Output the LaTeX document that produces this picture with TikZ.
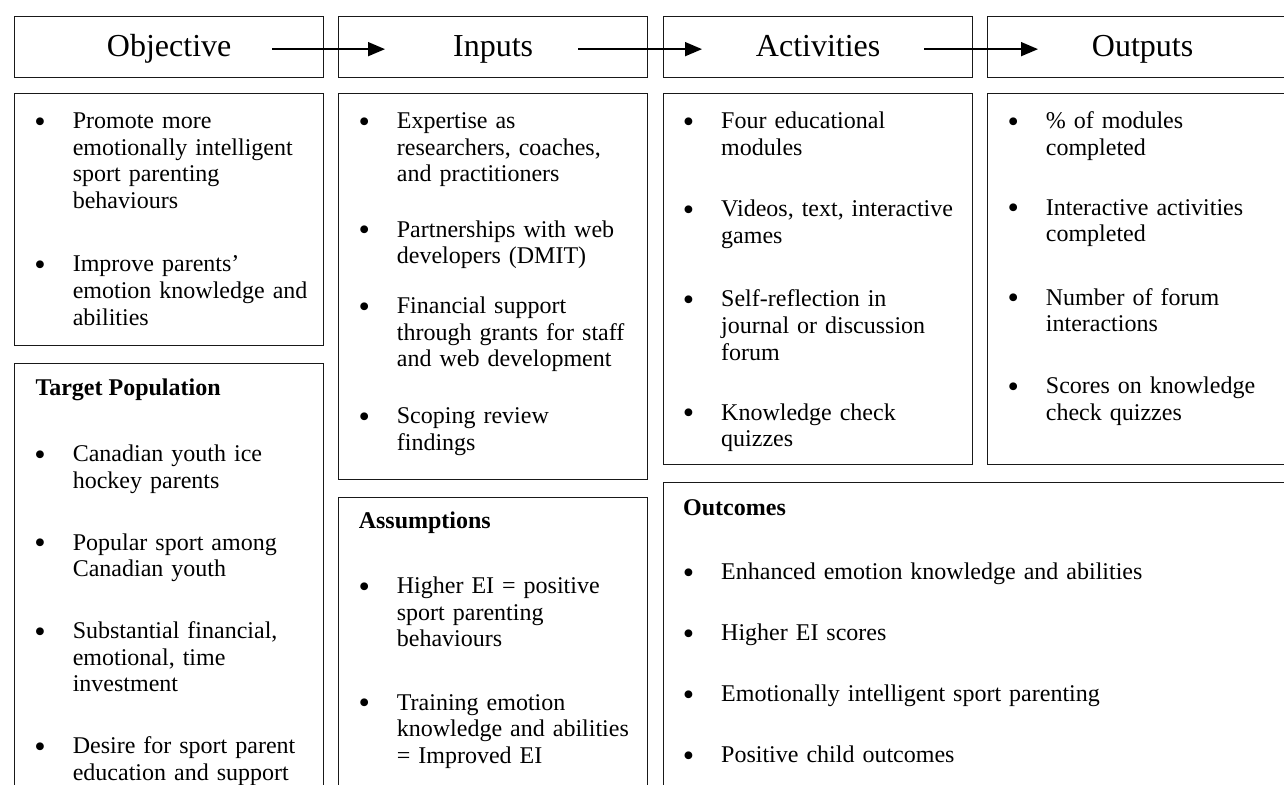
\documentclass[tikz,border=0pt]{standalone}
\usepackage{fontspec}
\setmainfont{Liberation Serif}
\usetikzlibrary{arrows.meta}

\newcommand{\listdot}{\raisebox{-3.6pt}{\scalebox{1.35}{\textbullet}}}

\tikzset{
  frame/.style={draw=black!90, line width=1.3pt, rectangle, inner sep=0pt, anchor=north west},
  headbox/.style={frame, font=\fontsize{32}{38}\selectfont, text height=22pt, text depth=4pt},
  item/.style={anchor=north west, inner sep=0pt, text width=600pt, align=left, yshift=18.69pt,
    font=\fontsize{24}{26.7}\selectfont,
    execute at begin node=\noindent\strut\llap{\listdot\hspace*{27pt}}},
  boxtitle/.style={anchor=base west, inner sep=0pt, font=\fontsize{24}{26.7}\selectfont\bfseries},
  flow/.style={-{Triangle[length=17pt,width=14pt]}, line width=1.6pt, black},
}

\begin{document}
\begin{tikzpicture}[x=1pt,y=-1pt]
\useasboundingbox (0,0) rectangle (1284,784);
\fill[white] (0,0) rectangle (1284,784);
\clip (0,0) rectangle (1284,784);

% header row
\node[headbox, minimum width=309pt, minimum height=61pt] (hobj) at (14,16) {Objective};
\node[headbox, minimum width=309pt, minimum height=61pt] (hinp) at (338,16) {Inputs};
\node[headbox, minimum width=309pt, minimum height=61pt] (hact) at (663,16) {Activities};
\node[headbox, minimum width=310pt, minimum height=61pt] (hout) at (987,16) {Outputs};

% content frames
\node[frame, minimum width=309pt, minimum height=252pt] (cobj) at (14,93) {};
\node[frame, minimum width=309pt, minimum height=440pt] (ctar) at (14,363) {};
\node[frame, minimum width=309pt, minimum height=386pt] (cinp) at (338,93) {};
\node[frame, minimum width=309pt, minimum height=310pt] (cass) at (338,497) {};
\node[frame, minimum width=309pt, minimum height=371pt] (cact) at (663,93) {};
\node[frame, minimum width=310pt, minimum height=371pt] (cout) at (987,93) {};
\node[frame, minimum width=634pt, minimum height=320pt] (cres) at (663,482) {};

% objective
\node[item] (obj1) at (72.6,128.3) {Promote more\\emotionally intelligent\\sport parenting\\behaviours};
\node[item] (obj2) at (72.6,271.5) {Improve parents’\\emotion knowledge and\\abilities};

% target population
\node[boxtitle] (ttar) at (35.3,395) {Target Population};
\node[item] (tar1) at (72.6,461.7) {Canadian youth ice\\hockey parents};
\node[item] (tar2) at (72.6,550) {Popular sport among\\Canadian youth};
\node[item] (tar3) at (72.6,638.3) {Substantial financial,\\emotional, time\\investment};
\node[item] (tar4) at (72.6,753.3) {Desire for sport parent\\education and support};

% inputs
\node[item] (inp1) at (396.7,128.3) {Expertise as\\researchers, coaches,\\and practitioners};
\node[item] (inp2) at (396.7,237) {Partnerships with web\\developers (DMIT)};
\node[item] (inp3) at (396.7,313.3) {Financial support\\through grants for staff\\and web development};
\node[item] (inp4) at (396.7,423.3) {Scoping review\\findings};

% assumptions
\node[boxtitle] (tass) at (358.6,528.3) {Assumptions};
\node[item] (ass1) at (396.7,593.3) {Higher EI = positive\\sport parenting\\behaviours};
\node[item] (ass2) at (396.7,710) {Training emotion\\knowledge and abilities\\= Improved EI};

% activities
\node[item] (act1) at (721,128.3) {Four educational\\modules};
\node[item] (act2) at (721,216.7) {Videos, text, interactive\\games};
\node[item] (act3) at (721,306.7) {Self-reflection in\\journal or discussion\\forum};
\node[item] (act4) at (721,420) {Knowledge check\\quizzes};

% outputs
\node[item] (out1) at (1045.7,128.3) {\% of modules\\completed};
\node[item] (out2) at (1045.7,215) {Interactive activities\\completed};
\node[item] (out3) at (1045.7,305) {Number of forum\\interactions};
\node[item] (out4) at (1045.7,393.3) {Scores on knowledge\\check quizzes};

% outcomes
\node[boxtitle] (tres) at (683,515) {Outcomes};
\node[item] (res1) at (721,579.3) {Enhanced emotion knowledge and abilities};
\node[item] (res2) at (721,640.7) {Higher EI scores};
\node[item] (res3) at (721,701.7) {Emotionally intelligent sport parenting};
\node[item] (res4) at (721,762.7) {Positive child outcomes};

% flow arrows between the header boxes
\coordinate (a1s) at ([xshift=-52pt,yshift=-2pt]hobj.east);
\coordinate (a1e) at ([xshift=47pt,yshift=-2pt]hinp.west);
\coordinate (a2s) at ([xshift=-70pt,yshift=-2pt]hinp.east);
\coordinate (a2e) at ([xshift=39pt,yshift=-2pt]hact.west);
\coordinate (a3s) at ([xshift=-49pt,yshift=-2pt]hact.east);
\coordinate (a3e) at ([xshift=51pt,yshift=-2pt]hout.west);
\draw[flow] (a1s) -- (a1e);
\draw[flow] (a2s) -- (a2e);
\draw[flow] (a3s) -- (a3e);
\end{tikzpicture}
\end{document}
